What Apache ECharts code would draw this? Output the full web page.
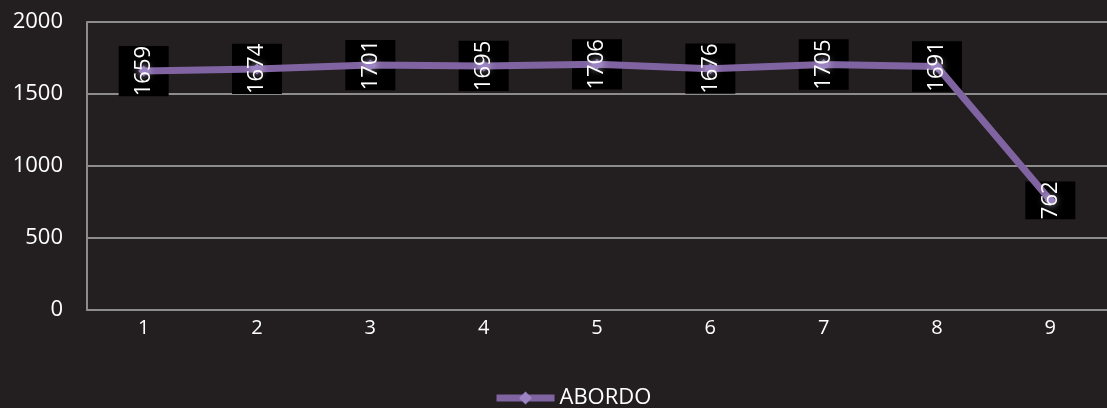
<!DOCTYPE html>
<html>
<head>
<meta charset="utf-8">
<script src="https://cdn.jsdelivr.net/npm/echarts@6/dist/echarts.min.js"></script>
<style>
  html, body { margin: 0; padding: 0; background: #231f20; }
  #chart { width: 1107px; height: 408px; }
</style>
</head>
<body>
<div id="chart"></div>
<script>
// Categories along the x axis
const categories = ['1', '2', '3', '4', '5', '6', '7', '8', '9'];
// ABORDO values per category
const abordo = [1659, 1674, 1701, 1695, 1706, 1676, 1705, 1691, 762];
const seriesName = 'ABORDO';

const FONT = '"Open Sans", sans-serif';
const GRID_COLOR = '#8c8c8c';

// Shared rotated value label; the box layer sits under the line, the text layer above it
function valueLabel(textColor, bg) {
  return {
    show: true,
    position: 'inside',
    rotate: 90,
    color: textColor,
    fontSize: 22,
    fontFamily: FONT,
    backgroundColor: bg,
    padding: [14, 0, 14, 0],
    formatter: p => String(p.value)
  };
}

const chart = echarts.init(document.getElementById('chart'), null, { renderer: 'canvas' });

chart.setOption({
  backgroundColor: '#231f20',
  animation: false,
  textStyle: { fontFamily: FONT },
  grid: { left: 87, right: 0, top: 22, bottom: 98 },
  legend: {
    left: 488,
    top: 382,
    itemWidth: 58,
    itemHeight: 16,
    itemGap: 4,
    lineStyle: { width: 7 },
    textStyle: { color: '#ffffff', fontSize: 22, fontFamily: FONT },
    data: [seriesName]
  },
  xAxis: {
    type: 'category',
    data: categories,
    boundaryGap: true,
    axisLine: { show: true, lineStyle: { color: GRID_COLOR, width: 2 } },
    axisTick: { show: false },
    axisLabel: { color: '#ffffff', fontSize: 20, margin: 8, fontFamily: FONT }
  },
  yAxis: {
    type: 'value',
    min: 0,
    max: 2000,
    interval: 500,
    axisLine: { show: true, lineStyle: { color: GRID_COLOR, width: 2 } },
    axisTick: { show: false },
    splitLine: { show: true, lineStyle: { color: GRID_COLOR, width: 2 } },
    axisLabel: {
      color: '#ffffff', fontSize: 22, margin: 24, fontFamily: FONT,
      formatter: v => String(v)
    }
  },
  series: [
    {
      name: 'label boxes',
      type: 'scatter',
      data: abordo,
      symbolSize: 1,
      itemStyle: { color: 'rgba(0,0,0,0)', opacity: 1 },
      silent: true,
      z: 1,
      label: valueLabel('rgba(0,0,0,0)', '#000000')
    },
    {
      name: seriesName,
      type: 'line',
      data: abordo,
      symbol: 'diamond',
      symbolSize: 11,
      lineStyle: { color: '#8064a2', width: 7 },
      itemStyle: {
        color: '#9c84c4',
        shadowColor: 'rgba(235,225,255,0.95)',
        shadowBlur: 8
      },
      z: 3
    },
    {
      name: 'label text',
      type: 'scatter',
      data: abordo,
      symbolSize: 1,
      itemStyle: { color: 'rgba(0,0,0,0)', opacity: 1 },
      silent: true,
      z: 5,
      label: valueLabel('#ffffff', 'transparent')
    }
  ]
});
</script>
</body>
</html>
